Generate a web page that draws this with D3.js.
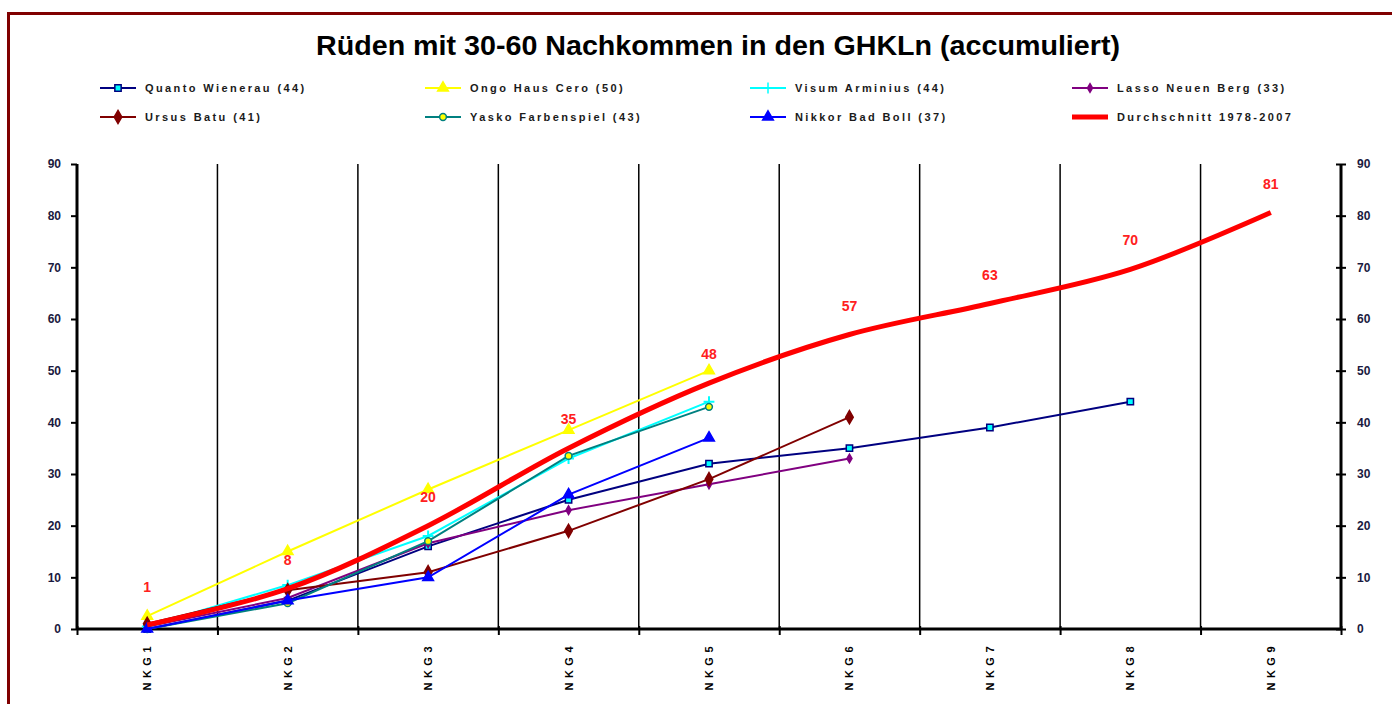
<!DOCTYPE html>
<html>
<head>
<meta charset="utf-8">
<script src="https://cdn.jsdelivr.net/npm/d3@7"></script>
<style>
  body { margin: 0; background: #fff; }
  svg { display: block; font-family: "Liberation Sans", Arial, sans-serif; }
</style>
</head>
<body>
<svg width="1392" height="704"></svg>
<script>
// categories and series
var categories = ['NKG1', 'NKG2', 'NKG3', 'NKG4', 'NKG5', 'NKG6', 'NKG7', 'NKG8', 'NKG9'];
var quanto = [0, 5.5, 16, 25, 32, 35, 39, 44];
var ongo = [2.5, 15, 27, 38.5, 50];
var visum = [0.5, 8.5, 18, 33, 44];
var lasso = [0.5, 6, 16.6, 23, 28, 33];
var ursus = [1, 7.5, 11, 19, 29, 41];
var yasko = [0, 5, 17, 33.5, 43];
var nikkor = [0, 5.5, 10, 26, 37];
var average = [0.8, 7.8, 20, 35, 47.6, 57, 63, 69.6, 80.6];
var yTicks = [0, 10, 20, 30, 40, 50, 60, 70, 80, 90];

var series = [
  {name: 'Quanto Wienerau (44)', values: quanto, color: '#000080', symbol: d3.symbolSquare, fill: '#00ffff', size: 40},
  {name: 'Ongo Haus Cero (50)', values: ongo, color: '#ffff00', symbol: d3.symbolTriangle, fill: '#ffff00', size: 50},
  {name: 'Visum Arminius (44)', values: visum, color: '#00ffff', symbol: d3.symbolPlus, fill: 'none', size: 40, strokeOnly: true},
  {name: 'Lasso Neuen Berg (33)', values: lasso, color: '#800080', symbol: d3.symbolDiamond, fill: '#800080', size: 22},
  {name: 'Ursus Batu (41)', values: ursus, color: '#800000', symbol: d3.symbolDiamond, fill: '#800000', size: 50},
  {name: 'Yasko Farbenspiel (43)', values: yasko, color: '#008080', symbol: d3.symbolCircle, fill: '#ffff00', size: 36},
  {name: 'Nikkor Bad Boll (37)', values: nikkor, color: '#0000ff', symbol: d3.symbolTriangle, fill: '#0000ff', size: 50},
  {name: 'Durchschnitt 1978-2007', values: average, color: '#ff0000', width: 5, smooth: true}
];

var svg = d3.select('svg');

// dark red frame
svg.append('rect')
    .attr('x', 8.5)
    .attr('y', 13.5)
    .attr('width', 1400)
    .attr('height', 720)
    .style('fill', 'none')
    .style('stroke', '#800000')
    .style('stroke-width', 3);

svg.append('text')
    .attr('x', 718)
    .attr('y', 55)
    .attr('text-anchor', 'middle')
    .attr('textLength', 804)
    .attr('lengthAdjust', 'spacingAndGlyphs')
    .style('font-size', '27px')
    .style('font-weight', 'bold')
    .style('fill', '#000')
    .text('Rüden mit 30-60 Nachkommen in den GHKLn (accumuliert)');

var x = d3.scaleBand().domain(categories).range([77, 1341]);
var y = d3.scaleLinear().domain([0, 90]).range([629, 164]);
var cx = function(i) { return x(categories[i]) + x.bandwidth() / 2; };

// vertical gridlines at category boundaries
svg.append('g').selectAll('line')
    .data(categories.slice(1))
    .join('line')
    .attr('x1', function(d) { return x(d); })
    .attr('x2', function(d) { return x(d); })
    .attr('y1', y(90))
    .attr('y2', y(0))
    .style('stroke', '#000')
    .style('stroke-width', 1.5);

// left axis
var left = svg.append('g')
    .attr('transform', 'translate(77,0)')
    .call(d3.axisLeft(y).tickValues(yTicks).tickSize(6).tickPadding(10));
// right axis, ticks crossing
var right = svg.append('g')
    .attr('transform', 'translate(1341,0)')
    .call(d3.axisRight(y).tickValues(yTicks).tickSize(5).tickPadding(11));
right.selectAll('.tick line').attr('x1', -5);
// bottom axis with ticks at category boundaries
var bounds = d3.scaleLinear().domain([0, categories.length]).range([77, 1341]);
var bottom = svg.append('g')
    .attr('transform', 'translate(0,' + y(0) + ')')
    .call(d3.axisBottom(bounds).ticks(categories.length).tickFormat('').tickSize(6));
bottom.selectAll('.tick line').attr('y1', -3);

[left, right, bottom].forEach(function(g) {
  g.select('.domain').style('stroke-width', 3);
  g.selectAll('.tick line').style('stroke-width', 2);
  g.selectAll('text')
      .style('font-size', '12px')
      .style('font-weight', 'bold')
      .style('fill', '#1a1a40');
});
left.select('.domain').attr('d', 'M0,' + y(90) + 'V' + y(0));
right.select('.domain').attr('d', 'M0,' + y(90) + 'V' + y(0));
bottom.select('.domain').attr('d', 'M77,0H1341');

// category labels, rotated
svg.append('g').selectAll('text')
    .data(categories)
    .join('text')
    .attr('transform', function(d, i) { return 'translate(' + (cx(i) + 4) + ',642) rotate(-90)'; })
    .attr('text-anchor', 'end')
    .style('font-size', '11px')
    .style('font-weight', 'bold')
    .style('letter-spacing', '4.5px')
    .text(function(d) { return d; });

// lines
series.forEach(function(s) {
  var line = d3.line()
      .x(function(d, i) { return cx(i); })
      .y(function(d) { return y(d); })
      .curve(s.smooth ? d3.curveCatmullRom.alpha(0.5) : d3.curveLinear);
  svg.append('path')
      .datum(s.values)
      .attr('d', line)
      .style('fill', 'none')
      .style('stroke', s.color)
      .style('stroke-width', s.width || 2);
  if (s.symbol) {
    svg.append('g').selectAll('path')
        .data(s.values)
        .join('path')
        .attr('transform', function(d, i) { return 'translate(' + cx(i) + ',' + y(d) + ')'; })
        .attr('d', d3.symbol().type(s.symbol).size(s.size))
        .style('fill', s.strokeOnly ? 'none' : s.fill)
        .style('stroke', s.color)
        .style('stroke-width', s.strokeOnly ? 2 : 1.5);
  }
});

// value labels on the average line
svg.append('g').selectAll('text')
    .data(average)
    .join('text')
    .attr('x', function(d, i) { return cx(i); })
    .attr('y', function(d, i) { return y(d) - (i === 0 ? 33 : 24); })
    .attr('text-anchor', 'middle')
    .style('font-size', '14px')
    .style('font-weight', 'bold')
    .style('fill', '#ff2020')
    .text(function(d) { return d3.format('.0f')(d); });

// legend, 4 columns x 2 rows
var legendX = [100, 425, 750, 1072];
var legendY = [88, 117];
var order = [0, 1, 2, 3, 4, 5, 6, 7];
var legend = svg.append('g').selectAll('g')
    .data(order)
    .join('g')
    .attr('transform', function(d, i) { return 'translate(' + legendX[i % 4] + ',' + legendY[Math.floor(i / 4)] + ')'; });
legend.append('line')
    .attr('x1', 0)
    .attr('x2', 36)
    .style('stroke', function(d) { return series[d].color; })
    .style('stroke-width', function(d) { return series[d].width || 2; });
legend.filter(function(d) { return series[d].symbol; })
    .append('path')
    .attr('transform', 'translate(18,0)')
    .attr('d', function(d) { return d3.symbol().type(series[d].symbol).size(series[d].size)(); })
    .style('fill', function(d) { return series[d].strokeOnly ? 'none' : series[d].fill; })
    .style('stroke', function(d) { return series[d].color; })
    .style('stroke-width', 1.5);
legend.append('text')
    .attr('x', 45)
    .attr('dy', '0.35em')
    .style('font-size', '11px')
    .style('font-weight', 'bold')
    .style('letter-spacing', '2.4px')
    .style('fill', '#1a1a1a')
    .text(function(d) { return series[d].name; });
</script>
</body>
</html>
